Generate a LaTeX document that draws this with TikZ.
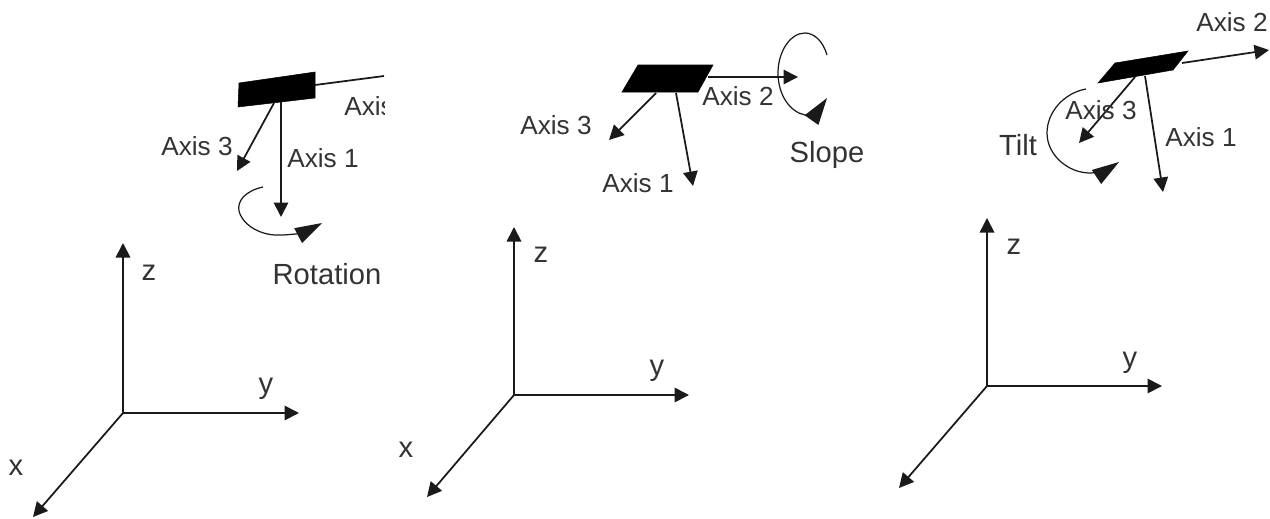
\documentclass[tikz,border=0pt]{standalone}
\usepackage{fontspec}
\setmainfont{Liberation Sans}
\usetikzlibrary{arrows.meta}
\definecolor{inkline}{HTML}{1a1a1a}
\definecolor{inktext}{HTML}{333333}
\tikzset{
  axisline/.style={-{Triangle[length=2.9mm, width=2.9mm]}, line width=1pt, color=inkline},
  turn/.style={-{Triangle[length=5.4mm, width=3.3mm]}, line width=0.7pt, color=inkline},
  plate/.style={fill=black, draw=black, line width=0.3pt},
  lbl/.style={inner sep=0pt, text=inktext, font=\fontsize{14.9}{17}\selectfont},
  biglbl/.style={lbl, font=\fontsize{16.6}{19}\selectfont}
}
\begin{document}
\begin{tikzpicture}[x=0.02cm, y=-0.02cm]
\useasboundingbox (0,0) rectangle (1270,518);

% left: rotation
\coordinate (o1) at (123,413);
\coordinate (z1) at (123,243);
\coordinate (y1) at (299,413);
\coordinate (x1) at (33,517);
\draw[axisline] (o1) -- (z1);
\draw[axisline] (o1) -- (y1);
\draw[axisline] (o1) -- (x1);
\node[biglbl] (zl1) at (149,273) {z};
\node[biglbl] (yl1) at (266,389) {y};
\node[biglbl] (xl1) at (16,468) {x};
\fill[plate] (239,83) -- (315,72) -- (315,98) -- (238,107) -- cycle;
\coordinate (a3s1) at (274,103);
\coordinate (a3e1) at (237,171);
\coordinate (a1s1) at (281,102);
\coordinate (a1e1) at (281,217);
\coordinate (a2s1) at (315,85);
\coordinate (a2e1) at (384,76);
\draw[axisline] (a3s1) -- (a3e1);
\draw[axisline] (a1s1) -- (a1e1);
\draw[line width=1pt, color=inkline] (a2s1) -- (a2e1);
\begin{scope}
\clip (330,90) rectangle (384,125);
\node[lbl, anchor=west] (a2l1) at (344,106) {Axis};
\end{scope}
\node[lbl] (a3l1) at (197,146) {Axis 3};
\node[lbl] (a1l1) at (323,158) {Axis 1};
\draw[turn] (263,187) .. controls (245,191) and (237,201) .. (239,211)
  .. controls (243,226) and (262,236) .. (280,235)
  .. controls (292,235) and (305,232) .. (322,223);
\node[biglbl] (rotl) at (327,274) {Rotation};

% middle: slope
\coordinate (o2) at (514,395);
\coordinate (z2) at (514,227);
\coordinate (y2) at (689,395);
\coordinate (x2) at (427,497);
\draw[axisline] (o2) -- (z2);
\draw[axisline] (o2) -- (y2);
\draw[axisline] (o2) -- (x2);
\node[biglbl] (zl2) at (541,255) {z};
\node[biglbl] (yl2) at (657,371) {y};
\node[biglbl] (xl2) at (406,450) {x};
\fill[plate] (638,65) -- (713,65) -- (698,92) -- (622,92) -- cycle;
\coordinate (a3s2) at (656,93);
\coordinate (a3e2) at (609,140);
\coordinate (a1s2) at (676,93);
\coordinate (a1e2) at (693,186);
\coordinate (a2s2) at (708,77);
\coordinate (a2e2) at (798,77);
\draw[axisline] (a3s2) -- (a3e2);
\draw[axisline] (a1s2) -- (a1e2);
\draw[axisline] (a2s2) -- (a2e2);
\node[lbl] (a3l2) at (556,125) {Axis 3};
\node[lbl] (a1l2) at (638,183) {Axis 1};
\node[lbl] (a2l2) at (738,96) {Axis 2};
\draw[turn] (827,55) .. controls (823,41) and (814,33) .. (805,33)
  .. controls (790,33) and (778,52) .. (778,73)
  .. controls (778,95) and (790,112) .. (805,115)
  .. controls (812,116) and (820,108) .. (827,98);
\node[biglbl] (slol) at (827,155) {Slope};

% right: tilt
\coordinate (o3) at (987,386);
\coordinate (z3) at (987,218);
\coordinate (y3) at (1162,386);
\coordinate (x3) at (899,488);
\draw[axisline] (o3) -- (z3);
\draw[axisline] (o3) -- (y3);
\draw[axisline] (o3) -- (x3);
\node[biglbl] (zl3) at (1014,247) {z};
\node[biglbl] (yl3) at (1130,363) {y};
\fill[plate] (1115,63) -- (1188,51) -- (1173,70) -- (1098,83) -- cycle;
\coordinate (a3s3) at (1135,77);
\coordinate (a3e3) at (1079,143);
\coordinate (a1s3) at (1145,76);
\coordinate (a1e3) at (1163,192);
\coordinate (a2s3) at (1182,63);
\coordinate (a2e3) at (1269,50);
\draw[axisline] (a3s3) -- (a3e3);
\draw[axisline] (a1s3) -- (a1e3);
\draw[axisline] (a2s3) -- (a2e3);
\node[lbl] (a3l3) at (1101,110) {Axis 3};
\node[lbl] (a1l3) at (1201,137) {Axis 1};
\node[lbl] (a2l3) at (1232,22) {Axis 2};
\draw[turn] (1086,89) .. controls (1064,93) and (1047,112) .. (1047,133)
  .. controls (1047,155) and (1068,173) .. (1090,173)
  .. controls (1100,173) and (1110,168) .. (1119,162);
\node[biglbl] (tilt) at (1018,145) {Tilt};
\end{tikzpicture}
\end{document}
